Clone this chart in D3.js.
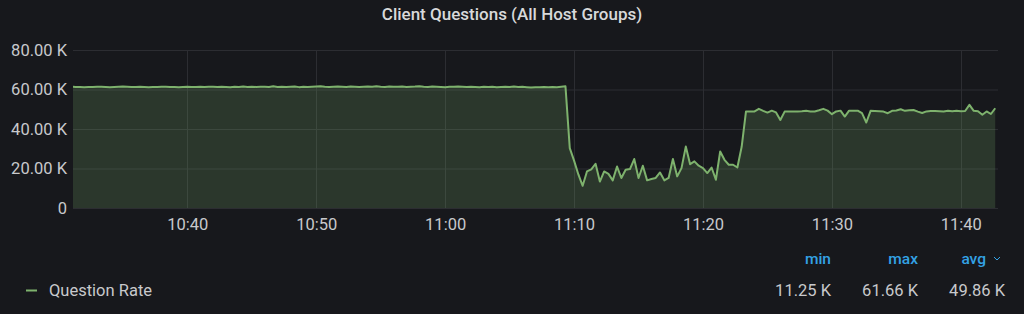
<!DOCTYPE html>
<html>
<head>
<meta charset="utf-8">
<script src="https://cdn.jsdelivr.net/npm/d3@7"></script>
<style>
  html, body { margin: 0; padding: 0; background: #17181c; }
  svg { display: block; font-family: Roboto, "Noto Sans", sans-serif; }
</style>
</head>
<body>
<div id="chart"></div>
<script>
// samples every 20 s, values in K
const startTime = new Date(2020, 0, 1, 10, 31, 0);
const stepSeconds = 20;

const phaseBefore = [
  61.4, 61.3, 61.3, 61.2, 61.3, 61.3, 61.4, 61.4, 61.3, 61.2,
  61.3, 61.4, 61.5, 61.4, 61.3, 61.3, 61.4, 61.3, 61.2, 61.3,
  61.3, 61.4, 61.4, 61.3, 61.3, 61.1, 61.3, 61.4, 61.3, 61.3,
  61.4, 61.3, 61.4, 61.4, 61.3, 61.4, 61.3, 61.2, 61.4, 61.3,
  61.5, 61.3, 61.4, 61.3, 61.4, 61.4, 61.3, 61.6, 61.3, 61.4,
  61.3, 61.4, 61.5, 61.2, 61.4, 61.3, 61.4, 61.5, 61.6, 61.4,
  61.3, 61.4, 61.5, 61.4, 61.3, 61.5, 61.4, 61.3, 61.4, 61.5,
  61.4, 61.6, 61.4, 61.3, 61.5, 61.4, 61.4, 61.5, 61.3, 61.4,
  61.5, 61.66, 61.4, 61.3, 61.5, 61.4, 61.3, 61.1, 61.4, 61.4,
  61.5, 61.4, 61.3, 61.4, 61.3, 61.2, 61.4, 61.3, 61.4, 61.2,
  61.3, 61.4, 61.3, 61.5, 61.3, 61.4, 61.2, 61.0, 61.2, 61.2,
  61.3, 61.2, 61.3, 61.2, 61.4, 61.6
];
const phaseDip = [
  30.3, 24.0, 17.0, 11.25, 18.5, 19.6, 22.4, 13.4, 18.5, 17.3,
  14.0, 21.0, 15.2, 19.4, 19.7, 24.8, 15.2, 21.4, 14.0, 14.7,
  15.2, 18.0, 14.0, 15.2, 24.8, 16.0, 20.2, 31.1, 22.2, 23.6,
  21.4, 20.2, 17.7, 20.5, 14.3, 28.6, 24.4, 21.9, 21.9, 20.5,
  31.0
];
const phaseAfter = [
  48.8, 48.8, 48.9, 50.2, 49.2, 48.3, 49.3, 48.4, 44.6, 48.8,
  48.8, 48.8, 48.9, 49.0, 49.2, 48.9, 48.9, 49.5, 50.2, 49.3,
  47.5, 48.9, 49.3, 46.3, 49.3, 49.3, 49.3, 48.0, 43.3, 49.2,
  49.1, 49.0, 48.8, 48.0, 49.2, 49.4, 50.0, 49.2, 49.5, 49.6,
  48.8, 48.1, 48.9, 49.1, 49.1, 49.0, 48.9, 49.2, 49.0, 49.2,
  49.0, 49.1, 52.2, 49.2, 49.0, 47.2, 48.9, 47.6, 50.5
];

const yTicks = [0, 20, 40, 60, 80];
const xTickTimes = ["10:40", "10:50", "11:00", "11:10", "11:20", "11:30", "11:40"];

const title = "Client Questions (All Host Groups)";
const seriesName = "Question Rate";
const legendHeaders = ["min", "max", "avg"];
const legendValues = ["11.25 K", "61.66 K", "49.86 K"];

const values = phaseBefore.concat(phaseDip, phaseAfter);
const data = values.map((v, i) => ({
  t: new Date(startTime.getTime() + i * stepSeconds * 1000),
  v: v
}));

const width = 1024, height = 314;
const plot = {left: 73, right: 998, top: 50, bottom: 208};

const lineColor = "#7eb26d";
const gridColor = "#2c2d32";
const textColor = "#c8c9cc";
const blue = "#33a2e5";

const svg = d3.select("#chart")
  .append("svg")
    .attr("width", width)
    .attr("height", height);

// title
svg.append("text")
  .attr("x", width / 2)
  .attr("y", 14)
  .attr("dominant-baseline", "central")
  .attr("text-anchor", "middle")
  .attr("fill", "#d8d9da")
  .attr("font-size", 17)
  .attr("font-weight", 500)
  .text(title);

// scales
const x = d3.scaleTime()
  .domain([new Date(2020, 0, 1, 10, 31, 8), new Date(2020, 0, 1, 11, 42, 53)])
  .range([plot.left, plot.right]);

const y = d3.scaleLinear()
  .domain([0, 80])
  .range([plot.bottom, plot.top]);

const tickDates = xTickTimes.map(s => {
  const [h, m] = s.split(":").map(Number);
  return new Date(2020, 0, 1, h, m, 0);
});

// grid lines
const grid = svg.append("g");
grid.selectAll(".hgrid")
  .data(yTicks)
  .join("line")
    .attr("x1", plot.left)
    .attr("x2", plot.right)
    .attr("y1", d => y(d) + 0.5)
    .attr("y2", d => y(d) + 0.5)
    .attr("stroke", gridColor);

grid.selectAll(".vgrid")
  .data(tickDates)
  .join("line")
    .attr("x1", d => Math.round(x(d)) + 0.5)
    .attr("x2", d => Math.round(x(d)) + 0.5)
    .attr("y1", plot.top)
    .attr("y2", plot.bottom)
    .attr("stroke", gridColor);

// axes
const yAxis = svg.append("g")
  .attr("transform", `translate(${plot.left - 6}, 0)`)
  .call(d3.axisLeft(y)
    .tickValues(yTicks)
    .tickSize(0)
    .tickPadding(0)
    .tickFormat(d => d === 0 ? "0" : d.toFixed(2) + " K"));
yAxis.select(".domain").remove();
yAxis.selectAll("text")
  .attr("fill", textColor)
  .attr("font-size", 16.5)
  .attr("font-family", "Roboto, sans-serif");

const xAxis = svg.append("g")
  .attr("transform", `translate(0, ${plot.bottom + 10})`)
  .call(d3.axisBottom(x)
    .tickValues(tickDates)
    .tickSize(0)
    .tickPadding(0)
    .tickFormat(d3.timeFormat("%H:%M")));
xAxis.select(".domain").remove();
xAxis.selectAll("text")
  .attr("fill", textColor)
  .attr("font-size", 16.5)
  .attr("font-family", "Roboto, sans-serif");

// series
svg.append("clipPath")
  .attr("id", "clip")
  .append("rect")
    .attr("x", plot.left)
    .attr("y", plot.top - 5)
    .attr("width", plot.right - plot.left)
    .attr("height", plot.bottom - plot.top + 5);

const series = svg.append("g").attr("clip-path", "url(#clip)");

series.append("path")
  .datum(data)
  .attr("fill", lineColor)
  .attr("fill-opacity", 0.2)
  .attr("d", d3.area()
    .x(d => x(d.t))
    .y0(y(0))
    .y1(d => y(d.v)));

series.append("path")
  .datum(data)
  .attr("fill", "none")
  .attr("stroke", lineColor)
  .attr("stroke-width", 2)
  .attr("stroke-linejoin", "round")
  .attr("d", d3.line()
    .x(d => x(d.t))
    .y(d => y(d.v)));

// legend
const legend = svg.append("g");
const colRight = [831, 918, 986];

legend.selectAll(".hdr")
  .data(legendHeaders)
  .join("text")
    .attr("x", (d, i) => colRight[i])
    .attr("y", 259)
    .attr("dominant-baseline", "central")
    .attr("text-anchor", "end")
    .attr("fill", blue)
    .attr("font-size", 15.5)
    .attr("font-weight", 500)
    .text(d => d);

legend.append("path")
  .attr("d", "M994,257 L997,260 L1000,257")
  .attr("fill", "none")
  .attr("stroke", blue)
  .attr("stroke-width", 1);

legend.selectAll(".val")
  .data(legendValues)
  .join("text")
    .attr("x", (d, i) => i === 2 ? 1005 : colRight[i])
    .attr("y", 290)
    .attr("dominant-baseline", "central")
    .attr("text-anchor", "end")
    .attr("fill", textColor)
    .attr("font-size", 16.5)
    .text(d => d);

legend.append("line")
  .attr("x1", 26)
  .attr("x2", 37)
  .attr("y1", 290.5)
  .attr("y2", 290.5)
  .attr("stroke", lineColor)
  .attr("stroke-width", 2);

legend.append("text")
  .attr("x", 49)
  .attr("y", 290)
  .attr("dominant-baseline", "central")
  .attr("fill", textColor)
  .attr("font-size", 16.5)
  .text(seriesName);
</script>
</body>
</html>
